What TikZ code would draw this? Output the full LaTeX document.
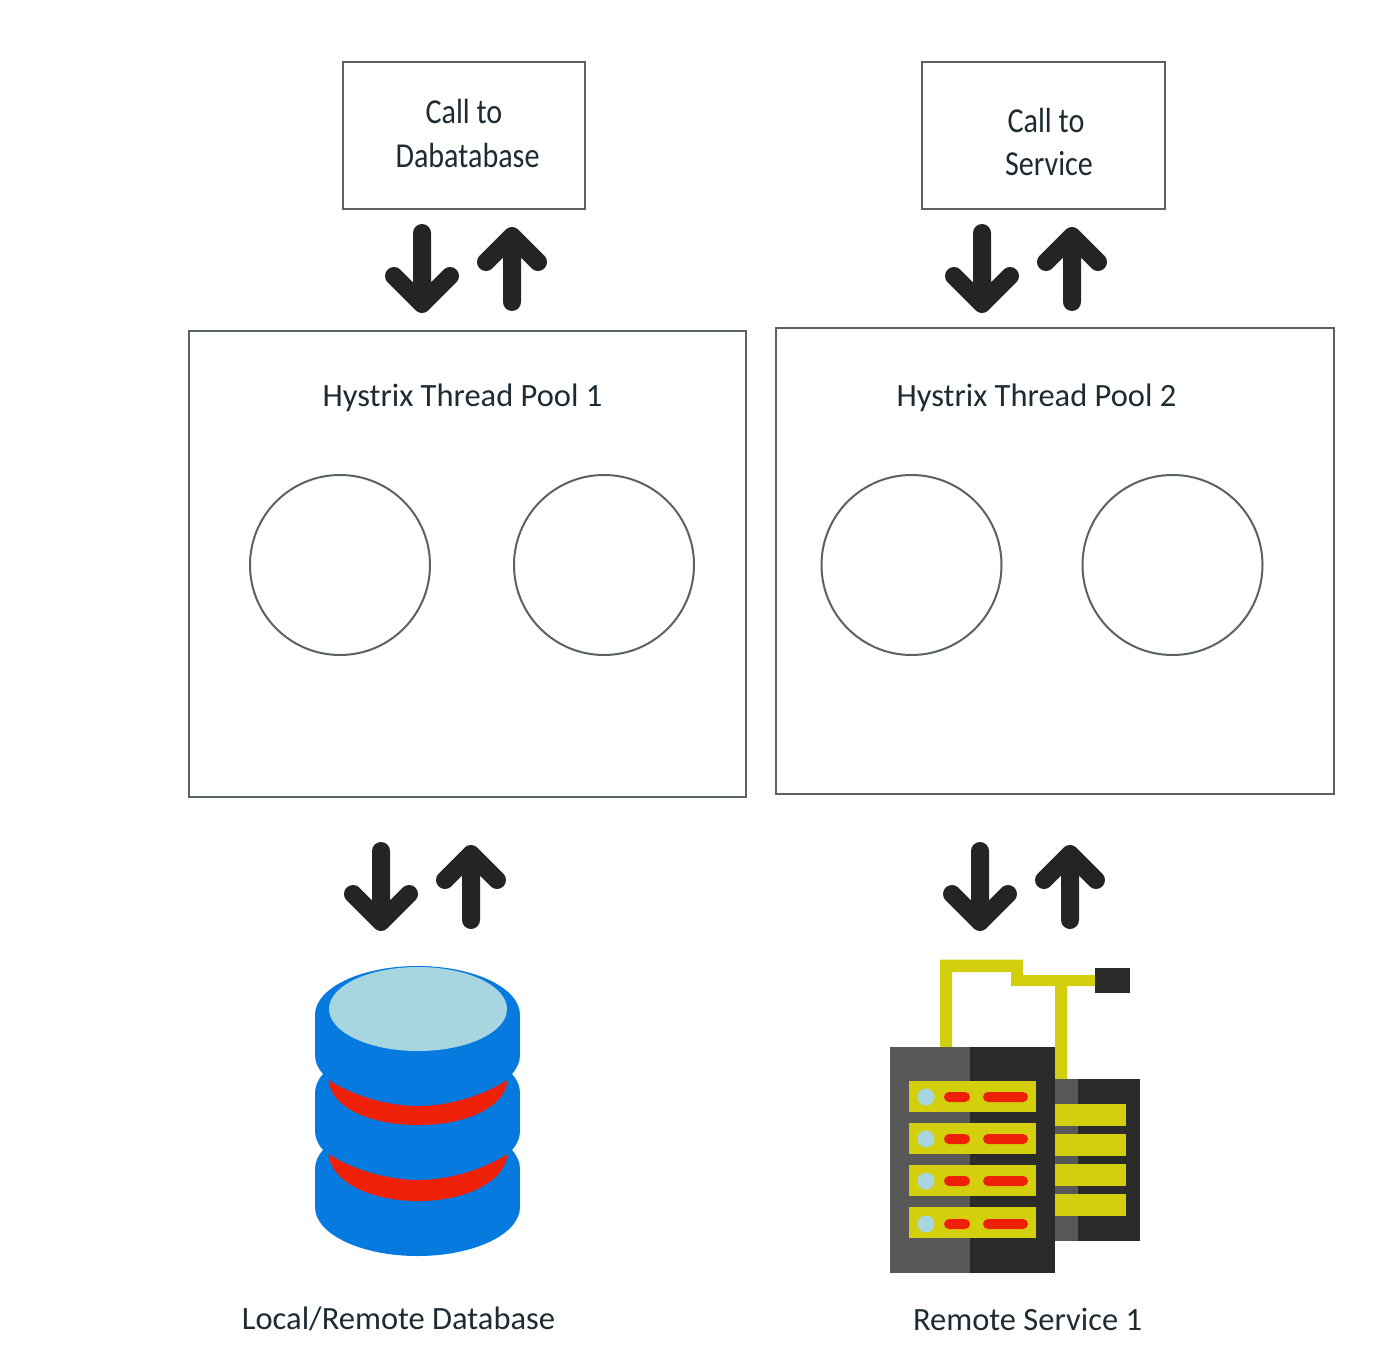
\documentclass[tikz,border=0pt]{standalone}
\usepackage{fontspec}
\setmainfont{Carlito}
\newfontface\narrowface[FakeStretch=0.86]{Carlito}
\definecolor{linegray}{HTML}{5A6266}
\definecolor{arrowblack}{HTML}{222522}
\definecolor{txt}{HTML}{1E2B33}
\definecolor{dbblue}{HTML}{067ADF}
\definecolor{dblight}{HTML}{A8D6E0}
\definecolor{alarmred}{HTML}{EE2008}
\definecolor{wireyellow}{HTML}{D4CF0D}
\definecolor{srvgray}{HTML}{585858}
\definecolor{srvdark}{HTML}{2B2B2A}
\tikzset{
  callbox/.style={draw=linegray,line width=2pt,fill=white},
  poolbox/.style={draw=linegray,line width=2.2pt,fill=white},
  worker/.style={circle,draw=linegray,line width=2pt,minimum size=180pt,inner sep=0pt},
  calltext/.style={font=\fontsize{35}{35}\narrowface,text=txt,inner sep=0pt},
  pooltext/.style={font=\fontsize{32.5}{32.5}\selectfont,text=txt,inner sep=0pt},
  fat/.style={draw=arrowblack,line width=18pt,line cap=round,line join=round},
  pics/arrowdown/.style={code={
    \draw[fat] (0,8) -- (0,79) (-28,51) -- (0,79) -- (28,51);}},
  pics/arrowup/.style={code={
    \draw[fat] (0,77) -- (0,11) (-26,37) -- (0,11) -- (26,37);}},
  pill/.style={fill=alarmred,rounded corners=5pt},
}
\begin{document}
\begin{tikzpicture}[x=1pt,y=-1pt]
\useasboundingbox (0,0) rectangle (1400,1359);
% call boxes
\path[callbox] (343,62) rectangle (585,209);
\path[callbox] (922,62) rectangle (1165,209);
\node[calltext] (calla) at (464,111) {Call to};
\node[calltext] (callb) at (467.5,155) {Dabatabase};
\node[calltext] (callc) at (1046,120) {Call to};
\node[calltext] (calld) at (1049,164) {Service};
% pools
\path[poolbox] (189,331) rectangle (746,797);
\path[poolbox] (776,328) rectangle (1334,794);
\node[pooltext] (poola) at (462.5,398) {Hystrix Thread Pool 1};
\node[pooltext] (poolb) at (1036.5,398) {Hystrix Thread Pool 2};
\node[worker] (w1) at (340,565) {};
\node[worker] (w2) at (604,565) {};
\node[worker] (w3) at (911.5,565) {};
\node[worker] (w4) at (1172.5,565) {};
% arrows
\pic at (422,225) {arrowdown};
\pic at (512,225) {arrowup};
\pic at (982,225) {arrowdown};
\pic at (1072,225) {arrowup};
\pic at (381,843) {arrowdown};
\pic at (471,843) {arrowup};
\pic at (980,843) {arrowdown};
\pic at (1070,843) {arrowup};
% database
\fill[dbblue] (315,1015) rectangle (520,1055);
\fill[dbblue] (315,1093) rectangle (520,1131);
\fill[dbblue] (315,1169) rectangle (520,1207);
\foreach \cy in {1015,1055,1093,1131,1169,1207}
  \fill[dbblue] (417.5,\cy) ellipse [x radius=102.5,y radius=49];
\fill[dblight] (418,1009) ellipse [x radius=89,y radius=42];
\foreach \dy/\up/\lo in {1080/1106/1125,1154/1180/1201}{
  \fill[alarmred] (328.5,\dy) .. controls (355,\dy+17) and (390,\up) .. (418,\up)
    .. controls (446,\up) and (481,\dy+17) .. (507.5,\dy)
    .. controls (506,\dy+25) and (470,\lo) .. (418,\lo)
    .. controls (366,\lo) and (330,\dy+25) .. (328.5,\dy) -- cycle;
}
% server wires
\fill[wireyellow] (940,1047) -- (940,959.5) -- (1023,959.5) -- (1023,975) -- (1095,975)
  -- (1095,986) -- (1067,986) -- (1067,1079) -- (1055,1079) -- (1055,986) -- (1011,986)
  -- (1011,972) -- (952,972) -- (952,1047) -- cycle;
\fill[srvdark] (1095,968) rectangle (1130,993);
% back server
\fill[srvdark] (1055,1079) rectangle (1140,1241);
\fill[srvgray] (1055,1079) rectangle (1078,1241);
\foreach \ry in {1104,1134,1164,1194}
  \fill[wireyellow] (1055,\ry) rectangle (1126,\ry+22);
% front server
\fill[srvdark] (890,1047) rectangle (1055,1273);
\fill[srvgray] (890,1047) rectangle (970,1273);
\foreach \ry/\my in {1081/1097,1123/1139,1165/1181,1207/1224}{
  \fill[wireyellow] (909,\ry) rectangle (1036,\ry+31);
  \fill[dblight] (926,\my) circle [radius=8.5];
  \fill[pill] (944,\my-5) rectangle (970,\my+5);
  \fill[pill] (983,\my-5) rectangle (1028,\my+5);
}
% captions
\node[pooltext] (capa) at (398.5,1319) {Local/Remote Database};
\node[pooltext] (capb) at (1027.5,1319.5) {Remote Service 1};
\end{tikzpicture}
\end{document}
